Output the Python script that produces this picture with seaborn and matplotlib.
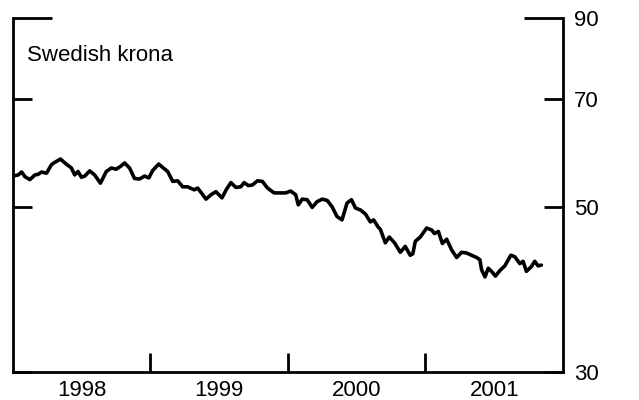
import matplotlib
matplotlib.use("Agg")
import matplotlib.pyplot as plt
import pandas as pd
import seaborn as sns

sns.set_style("ticks", {"text.color": "black", "axes.edgecolor": "black",
                        "xtick.color": "black", "ytick.color": "black"})
plt.rcParams['font.family'] = ['Liberation Sans', 'DejaVu Sans']

# weekly-ish readings, decimal year vs index level (log scale)
years = [1998.000, 1998.038, 1998.063, 1998.087, 1998.123, 1998.159, 1998.183, 1998.208,
         1998.244, 1998.280, 1998.304, 1998.346, 1998.377, 1998.425, 1998.449, 1998.473,
         1998.498, 1998.522, 1998.558, 1998.594, 1998.636, 1998.679, 1998.715, 1998.751,
         1998.783, 1998.812, 1998.848, 1998.884, 1998.920, 1998.957, 1998.988, 1999.017,
         1999.060, 1999.094, 1999.125, 1999.162, 1999.198, 1999.234, 1999.270, 1999.319,
         1999.343, 1999.367, 1999.404, 1999.440, 1999.476, 1999.520, 1999.553, 1999.585,
         1999.621, 1999.657, 1999.681, 1999.712, 1999.741, 1999.778, 1999.814, 1999.851,
         1999.899, 1999.935, 1999.983, 2000.020, 2000.056, 2000.075, 2000.104, 2000.140,
         2000.176, 2000.212, 2000.249, 2000.285, 2000.321, 2000.357, 2000.393, 2000.430,
         2000.462, 2000.491, 2000.527, 2000.563, 2000.599, 2000.623, 2000.654, 2000.672,
         2000.708, 2000.737, 2000.775, 2000.817, 2000.853, 2000.889, 2000.908, 2000.926,
         2000.962, 2001.009, 2001.046, 2001.065, 2001.094, 2001.123, 2001.154, 2001.191,
         2001.227, 2001.263, 2001.299, 2001.372, 2001.396, 2001.408, 2001.433, 2001.457,
         2001.480, 2001.509, 2001.541, 2001.577, 2001.621, 2001.650, 2001.686, 2001.710,
         2001.734, 2001.770, 2001.795, 2001.819, 2001.843]
krona = [55.1, 55.3, 55.8, 55.0, 54.5, 55.3, 55.4, 55.8,
         55.6, 57.1, 57.5, 58.1, 57.4, 56.5, 55.3, 55.9,
         54.9, 55.1, 56.0, 55.3, 53.9, 55.9, 56.5, 56.3,
         56.8, 57.4, 56.5, 54.7, 54.6, 55.1, 54.8, 56.1,
         57.2, 56.5, 55.9, 54.2, 54.3, 53.3, 53.3, 52.8,
         53.1, 52.4, 51.3, 52.0, 52.5, 51.5, 52.9, 54.0,
         53.2, 53.3, 54.0, 53.5, 53.6, 54.3, 54.2, 53.1,
         52.3, 52.3, 52.3, 52.6, 52.0, 50.4, 51.3, 51.2,
         50.0, 50.9, 51.3, 51.1, 50.1, 48.6, 48.1, 50.7,
         51.2, 49.9, 49.6, 49.0, 47.8, 48.1, 47.1, 46.7,
         44.8, 45.6, 44.8, 43.5, 44.3, 43.1, 43.3, 45.0,
         45.6, 46.9, 46.6, 46.1, 46.4, 44.7, 45.3, 43.8,
         42.8, 43.5, 43.4, 42.8, 42.5, 41.2, 40.3, 41.4,
         41.0, 40.4, 41.1, 41.7, 43.1, 42.9, 42.0, 42.3,
         41.0, 41.6, 42.3, 41.7, 41.8]

year_labels = ['1998', '1999', '2000', '2001']
y_ticks = [30, 50, 70]
y_top = [90]

df = pd.DataFrame({'year': years, 'krona': krona})

fig = plt.figure(figsize=(6.39, 4.0), dpi=100)
ax = fig.add_axes([0.0203, 0.07, 0.8607, 0.885])

sns.lineplot(data=df, x='year', y='krona', color='black', linewidth=2.6, ax=ax)

ax.set_yscale('log')
ax.set_xlim(1998, 2002)
ax.set_ylim(30, 90)

ax.set_yticks(y_ticks, labels=[str(v) for v in y_ticks])
ax.set_yticks(y_top, labels=[str(v) for v in y_top], minor=True)
ax.tick_params(axis='y', which='both', direction='in', left=True, right=True,
               labelleft=False, labelright=True, width=2.0, pad=8, labelsize=16,
               colors='black')
ax.tick_params(axis='y', which='major', length=14)
ax.tick_params(axis='y', which='minor', length=28)

ax.set_xticks([1999, 2000, 2001], labels=['', '', ''])
ax.set_xticks([1998.5, 1999.5, 2000.5, 2001.5], labels=year_labels, minor=True)
ax.tick_params(axis='x', which='major', direction='in', length=14, width=2.0, colors='black')
ax.tick_params(axis='x', which='minor', length=0, pad=6, labelsize=16, colors='black')

ax.spines['top'].set_visible(False)
for side in ['left', 'right', 'bottom']:
    ax.spines[side].set_linewidth(2.0)
    ax.spines[side].set_color('black')
    ax.spines[side].set_visible(True)

ax.set_xlabel('')
ax.set_ylabel('')
ax.text(0.025, 0.895, 'Swedish krona', transform=ax.transAxes, fontsize=16,
        color='black', ha='left', va='center')

fig.savefig('out.png', dpi=100)
